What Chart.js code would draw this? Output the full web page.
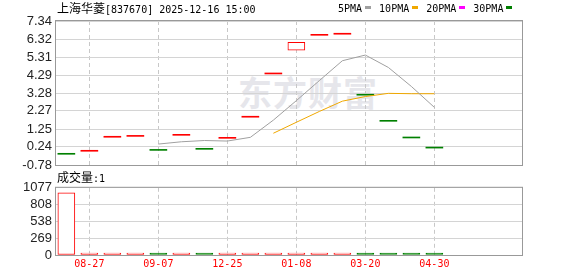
<!DOCTYPE html>
<html>
<head>
<meta charset="utf-8">
<script src="https://cdn.jsdelivr.net/npm/chart.js@4.4.1/dist/chart.umd.min.js"></script>
<style>
  body { margin: 0; background: #fff; }
  #wrap { position: relative; width: 578px; height: 276px; overflow: hidden; background: #fff;
          font-family: "DejaVu Sans Mono", monospace; font-size: 10px; color: #000; }
  canvas { position: absolute; left: 0; }
  .cjk { font-family: "Noto Sans CJK SC", sans-serif; font-size: 12px; }
  #title { position: absolute; left: 57px; top: 2px; line-height: 12px; white-space: nowrap; }
  #legend { position: absolute; left: 338px; top: 3px; height: 10px; display: flex; align-items: center; white-space: nowrap; }
  #legend .mk { display: inline-block; width: 6px; height: 3px; margin: 0 8px 2px 3px; }
  #vollabel { position: absolute; left: 57px; top: 171px; line-height: 12px; white-space: nowrap; }
  #mark { position: absolute; left: 238px; top: 74px; font-family: "Noto Sans CJK SC", sans-serif;
          font-weight: bold; font-size: 34px; line-height: 36px; color: #e6e6eb; letter-spacing: 1px; }
</style>
</head>
<body>
<div id="wrap">
  <div id="mark">东方财富</div>
  <canvas id="price" width="578" height="178" style="top:0"></canvas>
  <canvas id="volume" width="578" height="100" style="top:176px"></canvas>
  <div id="title"><span class="cjk">上海华菱</span>[837670] 2025-12-16 15:00</div>
  <div id="legend">
    <span>5PMA</span><span class="mk" style="background:#a0a0a0"></span>
    <span>10PMA</span><span class="mk" style="background:#f0a800"></span>
    <span>20PMA</span><span class="mk" style="background:#ff00ff"></span>
    <span>30PMA</span><span class="mk" style="background:#007f00"></span>
  </div>
  <div id="vollabel"><span class="cjk">成交量</span>:1</div>
</div>
<script>
// sessions 0..16
const opens  = [-0.12, 0.05, 0.84, 0.89, 0.10, 0.95, 0.16, 0.78, 1.97, 4.41, 5.69, 6.59, 6.65, 3.21, 1.74, 0.80, 0.23];
const closes = [-0.12, 0.05, 0.84, 0.89, 0.10, 0.95, 0.16, 0.78, 1.97, 4.41, 6.14, 6.59, 6.65, 3.21, 1.74, 0.80, 0.23];
const candleUp = [0, 1, 1, 1, 0, 1, 0, 1, 1, 1, 1, 1, 1, 0, 0, 0, 0];
const ma5  = [null, null, null, null, 0.40, 0.53, 0.60, 0.57, 0.78, 1.75, 2.85, 3.98, 5.10, 5.42, 4.72, 3.65, 2.47];
const ma10 = [null, null, null, null, null, null, null, null, null, 1.01, 1.63, 2.24, 2.82, 3.08, 3.26, 3.24, 3.24];
const volumes = [995, 3, 2, 2, 1, 2, 1, 2, 4, 3, 5, 2, 1, 2, 1, 1, 1];
const volUp   = [1, 1, 1, 1, 0, 1, 0, 1, 1, 1, 1, 1, 1, 0, 0, 0, 0];

const dateLabels = ['08-27', '09-07', '12-25', '01-08', '03-20', '04-30'];
const dateIdx = [1, 4, 7, 10, 13, 16];
const priceTicks = [-0.78, 0.24, 1.25, 2.27, 3.28, 4.29, 5.31, 6.32, 7.34];
const volTicks = [0, 269, 538, 808, 1077];

const RED = '#ff0000', GREEN = '#008000';
const X_MIN = -0.45, X_MAX = 19.81;

// frame round the plot area
const frame = {
  id: 'frame',
  afterDraw(chart) {
    const { ctx, chartArea: a } = chart;
    ctx.save();
    ctx.strokeStyle = '#999';
    ctx.lineWidth = 1;
    ctx.strokeRect(a.left - 0.5, a.top - 0.5, a.right - a.left + 1, a.bottom - a.top + 1);
    ctx.restore();
  }
};

function xScale(showLabels) {
  return {
    type: 'linear', min: X_MIN, max: X_MAX, offset: false,
    afterBuildTicks: (s) => { s.ticks = dateIdx.map((v) => ({ value: v })); },
    afterFit: (s) => { s.height = showLabels ? 21 : 0; s.paddingLeft = 0; s.paddingRight = 0; },
    grid: { color: '#c8c8c8', drawTicks: false, offset: false },
    border: { display: false, dash: [4, 3] },
    ticks: {
      display: showLabels, autoSkip: false, maxRotation: 0, padding: 3,
      color: RED, font: { family: 'DejaVu Sans Mono', size: 10 },
      callback: (v, i) => dateLabels[i]
    }
  };
}

function yScale(tickVals, fmt) {
  return {
    min: tickVals[0], max: tickVals[tickVals.length - 1],
    afterBuildTicks: (s) => { s.ticks = tickVals.map((v) => ({ value: v })); },
    afterFit: (s) => { s.width = 56; },
    grid: { color: '#d4d4d4', drawTicks: false },
    border: { display: false },
    ticks: {
      autoSkip: false, padding: 4, color: '#222',
      font: { family: 'Liberation Sans', size: 13 },
      callback: (v, i) => fmt(tickVals[i])
    }
  };
}

const common = {
  responsive: false, animation: false, devicePixelRatio: 1,
  plugins: { legend: { display: false }, tooltip: { enabled: false } }
};

new Chart(document.getElementById('price'), {
  type: 'bar',
  data: {
    datasets: [
      { type: 'line', data: ma5.map((v, i) => ({ x: i, y: v })), borderColor: '#a0a0a0',
        borderWidth: 1, pointRadius: 0, tension: 0 },
      { type: 'line', data: ma10.map((v, i) => ({ x: i, y: v })), borderColor: '#f0a800',
        borderWidth: 1, pointRadius: 0, tension: 0 },
      { type: 'bar', data: opens.map((o, i) => ({ x: i, y: [o, closes[i]] })),
        backgroundColor: opens.map((o, i) => (o !== closes[i] && candleUp[i]) ? '#fff' : (candleUp[i] ? RED : GREEN)),
        borderColor: candleUp.map((u) => u ? RED : GREEN),
        borderWidth: opens.map((o, i) => o !== closes[i] ? 1 : 0),
        borderSkipped: false, barThickness: 17, minBarLength: 1 }
    ]
  },
  options: Object.assign({}, common, {
    layout: { padding: { left: 0, top: 21, right: 56, bottom: 13 } },
    scales: { x: xScale(false), y: yScale(priceTicks, (v) => v.toFixed(2)) }
  }),
  plugins: [frame]
});

new Chart(document.getElementById('volume'), {
  type: 'bar',
  data: {
    datasets: [
      { data: volumes.map((v, i) => ({ x: i, y: v })),
        backgroundColor: volUp.map((u) => u ? '#fff' : GREEN),
        borderColor: volUp.map((u) => u ? RED : GREEN),
        borderWidth: 1, borderSkipped: false, barThickness: 17, minBarLength: 2 }
    ]
  },
  options: Object.assign({}, common, {
    layout: { padding: { left: 0, top: 10, right: 56, bottom: 0 } },
    scales: { x: xScale(true), y: yScale(volTicks, (v) => String(v)) }
  }),
  plugins: [frame]
});
</script>
</body>
</html>
